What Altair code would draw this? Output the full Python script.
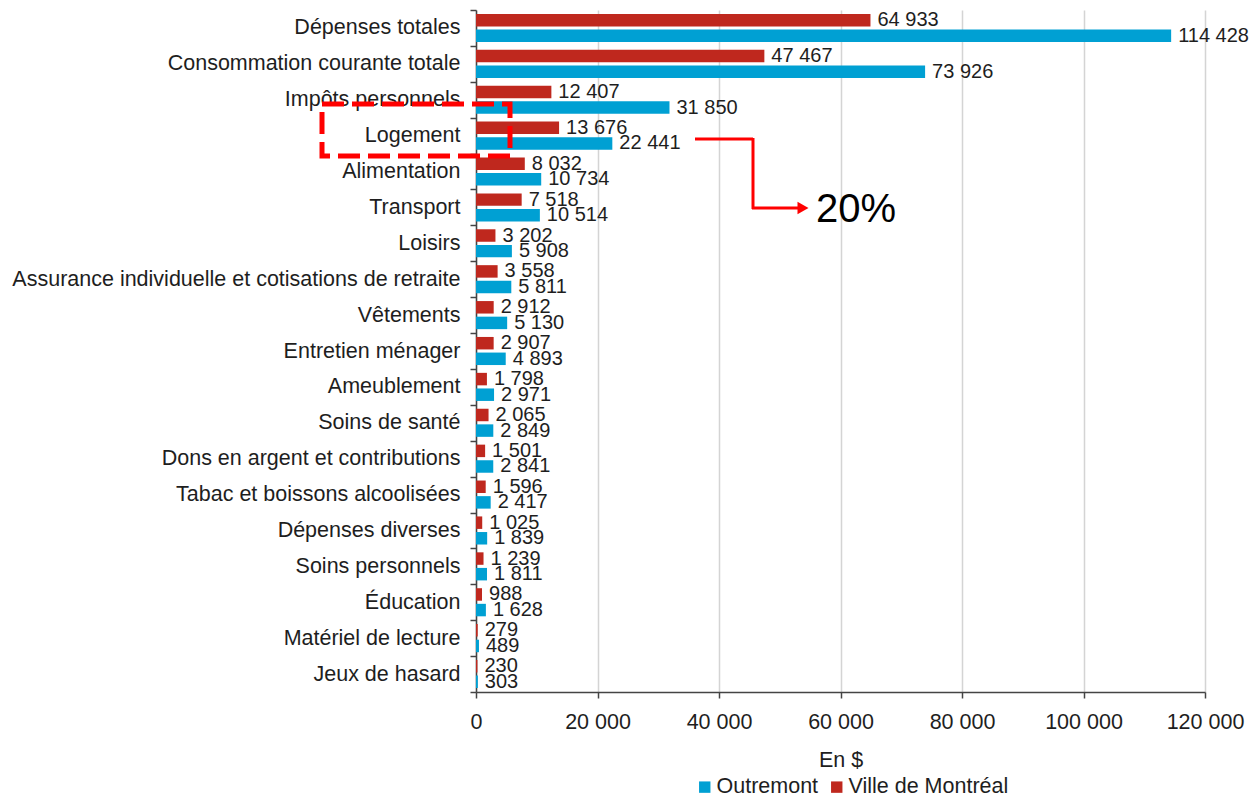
import altair as alt
import pandas as pd

categories = [
    "Dépenses totales", "Consommation courante totale", "Impôts personnels", "Logement",
    "Alimentation", "Transport", "Loisirs",
    "Assurance individuelle et cotisations de retraite", "Vêtements", "Entretien ménager",
    "Ameublement", "Soins de santé", "Dons en argent et contributions",
    "Tabac et boissons alcoolisées", "Dépenses diverses", "Soins personnels", "Éducation",
    "Matériel de lecture", "Jeux de hasard",
]
montreal = [64933, 47467, 12407, 13676, 8032, 7518, 3202, 3558, 2912, 2907,
            1798, 2065, 1501, 1596, 1025, 1239, 988, 279, 230]
outremont = [114428, 73926, 31850, 22441, 10734, 10514, 5908, 5811, 5130, 4893,
             2971, 2849, 2841, 2417, 1839, 1811, 1628, 489, 303]
series = ["Outremont", "Ville de Montréal"]
colors = ["#00A0D3", "#BF281E"]
x_ticks = [0, 20000, 40000, 60000, 80000, 100000, 120000]

rows = []
for c, m, o in zip(categories, montreal, outremont):
    rows.append({"cat": c, "serie": "Ville de Montréal", "val": m})
    rows.append({"cat": c, "serie": "Outremont", "val": o})
df = pd.DataFrame(rows)

FONT = "Liberation Sans"
TXT = "#1e1e1e"
AX_FS = 21.5

y_enc = alt.Y("cat:N", sort=categories, title=None,
              scale=alt.Scale(paddingInner=0, paddingOuter=0),
              axis=alt.Axis(tickBand="extent", labelFontSize=AX_FS, labelColor=TXT,
                            labelPadding=10, tickSize=6, domainColor="#444",
                            tickColor="#444", domainWidth=1.5, tickWidth=1.5,
                            labelLimit=600, grid=False))
yoff = alt.YOffset("serie:N", scale=alt.Scale(domain=["Ville de Montréal", "Outremont"],
                                              paddingInner=0.2, paddingOuter=0.25))
x_enc = alt.X("val:Q", title="En $",
              scale=alt.Scale(domain=[0, 120000], nice=False),
              axis=alt.Axis(values=x_ticks, labelFontSize=AX_FS, labelColor=TXT,
                            labelFlush=False,
                            titleFontSize=AX_FS, titleFontWeight="normal", titleColor=TXT,
                            titlePadding=17, labelPadding=13, tickSize=6,
                            domainColor="#444", tickColor="#444", domainWidth=1.5,
                            tickWidth=1.5, gridColor="#d4d4d4", gridWidth=1.5,
                            format=",d"))

bars = alt.Chart(df).mark_bar().encode(
    y=y_enc, yOffset=yoff, x=x_enc,
    color=alt.Color("serie:N", scale=alt.Scale(domain=series, range=colors),
                    legend=alt.Legend(title=None, orient="none", direction="horizontal",
                                      legendX=218, legendY=766, symbolType="square",
                                      symbolSize=130, labelFontSize=AX_FS, labelColor=TXT,
                                      labelOffset=1, columnPadding=7,
                                      symbolStrokeWidth=0)),
)
labels = alt.Chart(df).mark_text(align="left", baseline="middle", dx=7, fontSize=20,
                                 color=TXT).encode(
    y=alt.Y("cat:N", sort=categories), yOffset=yoff, x="val:Q",
    text=alt.Text("val:Q", format=",d"),
)

one = pd.DataFrame({"k": [0]})
box = alt.Chart(one).mark_rect(filled=False, stroke="#FF0000", strokeWidth=5,
                               strokeDash=[22, 8]).encode(
    x=alt.value(-154), x2=alt.value(34), y=alt.value(94), y2=alt.value(146))
seg1 = alt.Chart(one).mark_rule(color="#FF0000", strokeWidth=3).encode(
    x=alt.value(219), x2=alt.value(277), y=alt.value(129))
seg2 = alt.Chart(one).mark_rule(color="#FF0000", strokeWidth=3).encode(
    x=alt.value(277), y=alt.value(128), y2=alt.value(199))
seg3 = alt.Chart(one).mark_rule(color="#FF0000", strokeWidth=3).encode(
    x=alt.value(276), x2=alt.value(322), y=alt.value(198))
head = alt.Chart(one).mark_point(shape="triangle-right", filled=True, color="#FF0000",
                                 size=160, opacity=1).encode(
    x=alt.value(327), y=alt.value(198))
pct = alt.Chart(one).mark_text(text="20%", fontSize=40, align="left", baseline="middle",
                               color="#000000", font=FONT).encode(
    x=alt.value(340), y=alt.value(200))

chart = alt.layer(bars, labels, box, seg1, seg2, seg3, head, pct).properties(
    width=729, height=682,
    autosize=alt.AutoSizeParams(type="none"),
    padding={"left": 476, "top": 10, "right": 53, "bottom": 107},
).configure(
    font=FONT,
    locale={"number": {"decimal": ",", "thousands": " ", "grouping": [3],
                       "currency": ["", " $"]}},
).configure_view(stroke=None)

chart.save("out.html", embed_options={"renderer": "svg", "actions": False})
